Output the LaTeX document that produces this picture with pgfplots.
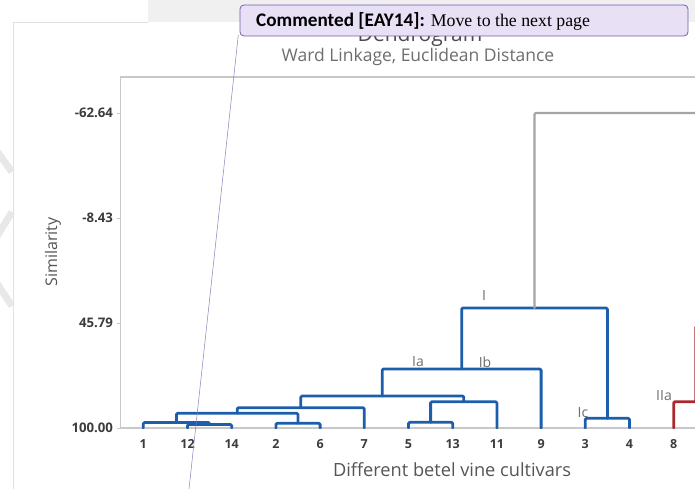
\documentclass[border=0pt]{standalone}
\usepackage{pgfplots}
\pgfplotsset{compat=1.18}
\usepackage{fontspec}
\setmainfont{Open Sans}
\newfontfamily\cmtsans{Carlito}
\newfontfamily\cmtserif{Liberation Serif}
\definecolor{dblue}{RGB}{28,94,172}
\definecolor{dred}{RGB}{168,40,44}
\definecolor{rootgray}{RGB}{165,165,165}
\definecolor{framegray}{RGB}{200,200,200}
\definecolor{ticktext}{RGB}{60,60,60}
\definecolor{labtext}{RGB}{85,85,85}
\definecolor{ttltext}{RGB}{110,110,110}
\definecolor{cmtfill}{RGB}{232,224,244}
\definecolor{cmtdraw}{RGB}{120,90,170}
\begin{document}
\begin{tikzpicture}[x=1pt,y=1pt]
\useasboundingbox (0,0) rectangle (695,-489);
\clip (0,0) rectangle (695,-489);
\fill[white] (0,0) rectangle (695,-489);
% page decorations
\fill[black!6] (148,0) rectangle (695,-22);
\draw[black!12, line width=0.8] (13,-489) -- (13,-22) -- (148,-22);
\draw[black!9, line width=7] (-4,-150) -- (12,-172);
\draw[black!9, line width=7] (-4,-238) -- (12,-212);
\draw[black!9, line width=7] (-4,-282) -- (12,-306);
% titles
\node[anchor=base, font=\fontsize{21}{24}\selectfont, text=black!70] at (420,-42) {Dendrogram};
\node[anchor=center, font=\fontsize{17.5}{20}\selectfont, text=ttltext] at (418,-57) {Ward Linkage, Euclidean Distance};
\node[rotate=90, font=\fontsize{16}{19}\selectfont, text=labtext] at (53,-252) {Similarity};
\node[font=\fontsize{18.2}{21}\selectfont, text=labtext] at (452,-470) {Different betel vine cultivars};
\begin{axis}[
  x=, y=,
  scale only axis, width=576.5pt, height=351pt,
  at={(120.5pt,-77pt)}, anchor=north west,
  xmin=0.484, xmax=13.527, ymin=-81.23, ymax=100, y dir=reverse,
  axis line style={draw=framegray, line width=1.3pt},
  xtick={1,2,3,4,5,6,7,8,9,10,11,12,13},
  xticklabels={1,12,14,2,6,7,5,13,11,9,3,4,8},
  ytick={-62.64,-8.43,45.79,100},
  yticklabels={-62.64,-8.43,45.79,100.00},
  tick align=outside,
  xtick style={draw=none},
  ytick style={draw=framegray, line width=0.8pt},
  major tick length=4pt,
  ticklabel style={font=\bfseries\fontsize{12.5}{14}\selectfont, text=ticktext},
  yticklabel style={font=\bfseries\fontsize{13.2}{15}\selectfont},
  xticklabel style={yshift=-4pt},
  clip=true,
  every axis plot/.append style={line width=2.8pt, line join=round, line cap=round, rounded corners=1.2pt},
]
% cluster I (blue)
\addplot[dblue] coordinates {(2,100)(2,98.19)(3,98.19)(3,100)};
\addplot[dblue] coordinates {(1,100)(1,97.16)(2.5,97.16)(2.5,98.19)};
\addplot[dblue] coordinates {(4,100)(4,97.57)(5,97.57)(5,100)};
\addplot[dblue] coordinates {(1.75,97.16)(1.75,92.41)(4.5,92.41)(4.5,97.57)};
\addplot[dblue] coordinates {(3.125,92.41)(3.125,89.52)(6,89.52)(6,100)};
\addplot[dblue] coordinates {(7,100)(7,97.06)(8,97.06)(8,100)};
\addplot[dblue] coordinates {(7.5,97.06)(7.5,86.42)(9,86.42)(9,100)};
\addplot[dblue] coordinates {(4.5625,89.52)(4.5625,83.48)(8.25,83.48)(8.25,86.42)};
\addplot[dblue] coordinates {(6.406,83.48)(6.406,69.54)(10,69.54)(10,100)};
\addplot[dblue] coordinates {(11,100)(11,94.99)(12,94.99)(12,100)};
\addplot[dblue] coordinates {(8.203,69.54)(8.203,38.04)(11.5,38.04)(11.5,94.99)};
% root (gray)
\addplot[rootgray, line width=2.2pt] coordinates {(9.852,38.04)(9.852,-62.64)(16,-62.64)};
% cluster II (red)
\addplot[dred] coordinates {(13,100)(13,86.42)(14,86.42)(14,100)};
\addplot[dred] coordinates {(13.5,86.42)(13.5,47.34)(15,47.34)};
% cluster labels
\node[font=\fontsize{14}{16}\selectfont, text=ttltext] at (axis cs:7.215,65.92) {Ia};
\node[font=\fontsize{14}{16}\selectfont, text=ttltext] at (axis cs:8.731,65.92) {Ib};
\node[font=\fontsize{14}{16}\selectfont, text=ttltext] at (axis cs:8.708,31.33) {I};
\node[font=\fontsize{14}{16}\selectfont, text=ttltext] at (axis cs:10.948,92.26) {Ic};
\node[font=\fontsize{14}{16}\selectfont, text=ttltext] at (axis cs:12.78,83.32) {IIa};
\end{axis}
% comment connector and box
\draw[cmtdraw!80, line width=0.5] (238.3,-35) -- (189,-489);
\draw[fill=cmtfill, draw=cmtdraw, rounded corners=4, line width=0.8] (240,-5) rectangle (688,-36);
\node[anchor=base west, inner sep=0] at (256,-27) {{\cmtsans\bfseries\fontsize{19.2}{22}\selectfont Commented [EAY14]:}\hspace{6pt}{\cmtserif\fontsize{17.8}{21}\selectfont Move to the next page}};
\end{tikzpicture}
\end{document}
